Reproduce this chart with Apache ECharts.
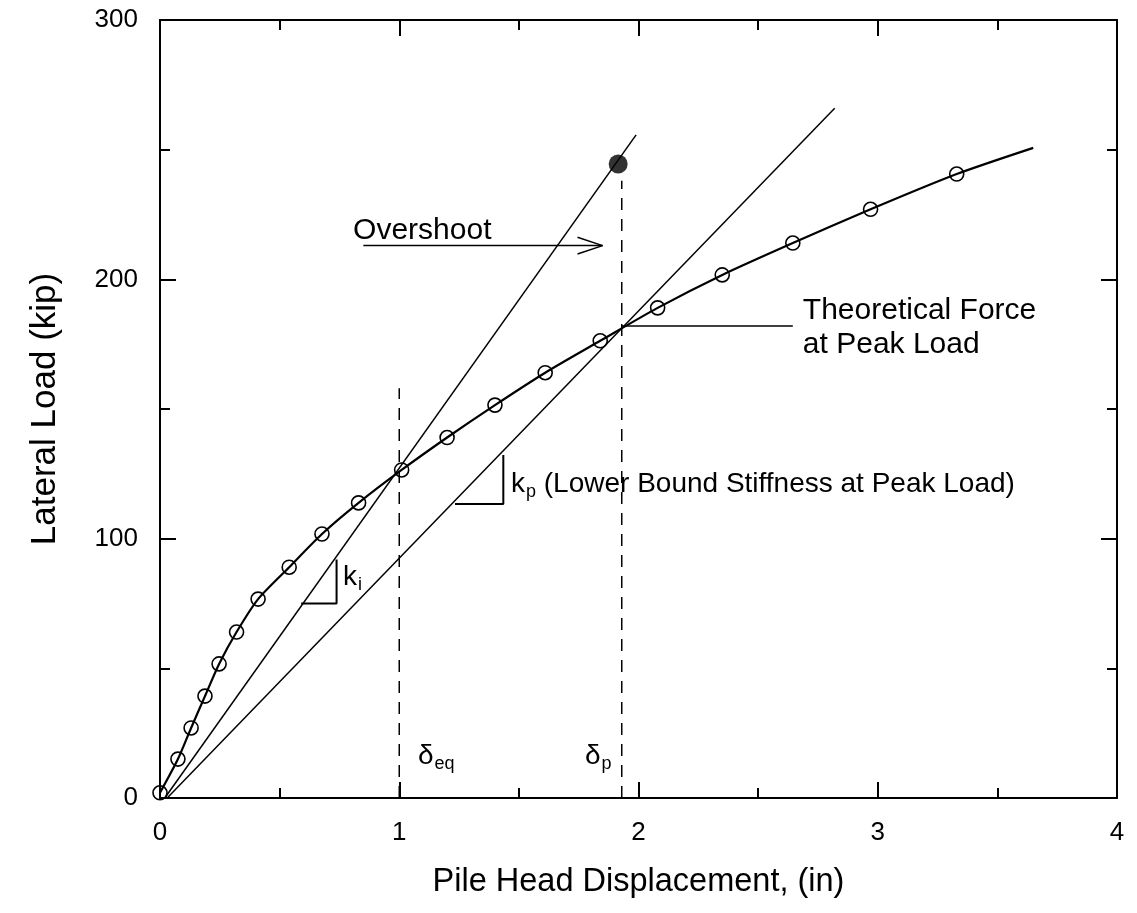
<!DOCTYPE html>
<html>
<head>
<meta charset="utf-8">
<script src="https://cdn.jsdelivr.net/npm/echarts@6/dist/echarts.min.js"></script>
<style>html,body{margin:0;padding:0;background:#fff;}#c{width:1137px;height:913px;}</style>
</head>
<body>
<div id="c"></div>
<script>
// ---- data ----
const xTicks = [0, 1, 2, 3, 4];
const yTicks = [0, 100, 200, 300];
const testDisp = [0.0, 0.075, 0.13, 0.188, 0.247, 0.32, 0.41, 0.54, 0.677, 0.83, 1.01, 1.2, 1.4, 1.61, 1.84, 2.08, 2.35, 2.645, 2.97, 3.33];
const testLoad = [2, 15, 27, 39.3, 51.7, 64, 76.7, 89, 101.8, 113.8, 126.5, 139, 151.5, 164, 176.3, 189, 201.7, 214, 227, 240.6];
const curveEnd = [3.65, 250.7];
const peakPoint = [1.915, 244.5];
const kiLine = [[0.02, 0], [1.99, 255.7]];
const kpLine = [[0.03, 0], [2.82, 266]];
const deltaEqLine = [[1.0, 0], [1.0, 158]];
const deltaPLine = [[1.93, 0], [1.93, 238]];
const kiTriangle = [[0.59, 75], [0.738, 75], [0.738, 92]];
const kpTriangle = [[1.233, 113.4], [1.435, 113.4], [1.435, 132.3]];
const overshootArrow = [[0.85, 213], [1.85, 213]];
const overshootHead = [[1.745, 216.2], [1.85, 213], [1.745, 209.8]];
const theoLeader = [[1.93, 182], [2.645, 182]];
const textLabels = [
  {pos: [0.807, 213], text: 'Overshoot', va: 'bottom', size: 30, dy: 0},
  {pos: [2.687, 182], text: 'Theoretical Force', va: 'bottom', size: 30, dy: 0},
  {pos: [2.687, 182], text: 'at Peak Load', va: 'top', size: 30, dy: 4},
  {pos: [0.765, 85.2], text: '{b|k}{s|i}', va: 'middle', size: 28, dy: 0},
  {pos: [1.467, 121.1], text: '{b|k}{s|p}{b| (Lower Bound Stiffness at Peak Load)}', va: 'middle', size: 28, dy: 0},
  {pos: [1.078, 16.2], text: '{b|δ}{s|eq}', va: 'middle', size: 28, dy: 0},
  {pos: [1.776, 16.2], text: '{b|δ}{s|p}', va: 'middle', size: 28, dy: 0}
];

// ---- chart ----
const FONT = 'Liberation Sans, Arial, sans-serif';
const chart = echarts.init(document.getElementById('c'), null, {renderer: 'canvas'});
const curveData = testDisp.map((x, i) => [x, testLoad[i]]);
curveData.push({value: curveEnd, symbol: 'none'});

function seg(data, dashed, width) {
  return {
    type: 'line', data: data, symbol: 'none', silent: true, animation: false,
    lineStyle: {color: '#000', width: width || 1.5, type: dashed ? [12, 9] : 'solid'},
    z: 3
  };
}
function axisCommon() {
  return {
    axisLine: {show: true, onZero: false, lineStyle: {color: '#000', width: 2}},
    axisTick: {show: true, inside: true, length: 16, lineStyle: {color: '#000', width: 2}},
    minorTick: {show: true, splitNumber: 2, length: 10, lineStyle: {color: '#000', width: 2}},
    splitLine: {show: false}
  };
}
const richStyles = {
  b: {fontSize: 28, fontFamily: FONT, color: '#000'},
  s: {fontSize: 18, fontFamily: FONT, color: '#000', padding: [16, 0, 0, 1]}
};

chart.setOption({
  backgroundColor: '#fff',
  animation: false,
  grid: {left: 160, right: 20, top: 20, bottom: 115},
  xAxis: [
    Object.assign({type: 'value', position: 'bottom', min: xTicks[0], max: xTicks[xTicks.length - 1], interval: 1,
      name: 'Pile Head Displacement, (in)', nameLocation: 'middle', nameGap: 68,
      nameTextStyle: {fontSize: 32.5, fontFamily: FONT, color: '#000'},
      axisLabel: {fontSize: 26, fontFamily: FONT, color: '#000', margin: 22}}, axisCommon()),
    Object.assign({type: 'value', position: 'top', min: xTicks[0], max: xTicks[xTicks.length - 1], interval: 1,
      axisLabel: {show: false}}, axisCommon())
  ],
  yAxis: [
    Object.assign({type: 'value', position: 'left', min: yTicks[0], max: yTicks[yTicks.length - 1], interval: 100,
      name: 'Lateral Load (kip)', nameLocation: 'middle', nameGap: 97, nameRotate: 90,
      nameTextStyle: {fontSize: 35, fontFamily: FONT, color: '#000'},
      axisLabel: {fontSize: 26, fontFamily: FONT, color: '#000', margin: 22}}, axisCommon()),
    Object.assign({type: 'value', position: 'right', min: yTicks[0], max: yTicks[yTicks.length - 1], interval: 100,
      axisLabel: {show: false}}, axisCommon())
  ],
  series: [
    {
      type: 'line', data: curveData, smooth: 0.25, silent: true, animation: false,
      symbol: 'circle', symbolSize: 14, showSymbol: true, showAllSymbol: true,
      lineStyle: {color: '#000', width: 2.2},
      itemStyle: {color: 'rgba(0,0,0,0)', borderColor: '#000', borderWidth: 1.6},
      z: 4
    },
    seg(kiLine), seg(kpLine),
    seg(deltaEqLine, true), seg(deltaPLine, true),
    seg(kiTriangle, false, 2), seg(kpTriangle, false, 2),
    seg(overshootArrow), seg(overshootHead),
    seg(theoLeader),
    {
      type: 'scatter', data: [peakPoint], symbol: 'circle', symbolSize: 19, silent: true,
      itemStyle: {color: '#000'}, z: 5
    },
    {
      type: 'scatter', silent: true, symbolSize: 0, itemStyle: {color: '#000', opacity: 1}, z: 6,
      data: textLabels.map(t => ({
        value: t.pos,
        label: {
          show: true, position: [0, t.dy], align: 'left', verticalAlign: t.va,
          formatter: t.text, fontSize: t.size, fontFamily: FONT, color: '#000', opacity: 1,
          textBorderWidth: 0, rich: richStyles
        }
      }))
    }
  ]
});
</script>
</body>
</html>
